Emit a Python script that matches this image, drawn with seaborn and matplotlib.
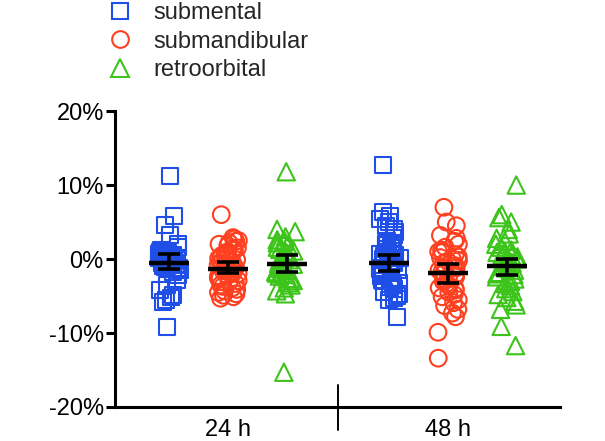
import numpy as np
import pandas as pd
import matplotlib
matplotlib.use("Agg")
import matplotlib.pyplot as plt
import seaborn as sns
from matplotlib.lines import Line2D
from matplotlib.transforms import blended_transform_factory

# ---------------- data (percent change) ----------------
times = ["24 h", "48 h"]
sites = ["submental", "submandibular", "retroorbital"]

submental_24 = [11.2, 5.8, 4.6, 3.3, 2.0, 1.6, 1.2, 1.0, 0.9, 0.8, 0.7, 0.6, 0.5, 0.4,
                0.3, 0.2, 0.1, 0.0, 0.0, -0.1, -0.2, -0.3, -0.4, -0.5, -0.6, -0.7, -0.8,
                -0.9, -1.0, -1.2, -1.5, -1.8, -2.2, -2.9, -3.5, -4.2, -4.8, -5.2, -5.5,
                -5.8, -9.2, 0.6, 0.3, -0.2, -0.4, 0.1, -0.6, -1.1, 0.8, 0.4]
submandibular_24 = [6.0, 2.9, 2.7, 2.5, 2.4, 2.2, 2.0, 1.8, 1.5, 1.2, 1.0, 0.8, 0.5, 0.3,
                    0.1, -0.1, -0.3, -0.5, -0.6, -0.8, -1.0, -1.1, -1.3, -1.5, -1.6, -1.8,
                    -2.0, -2.1, -2.3, -2.5, -2.7, -2.9, -3.1, -3.3, -3.5, -3.7, -3.9, -4.1,
                    -4.3, -4.5, -4.7, -4.9, -5.1, -5.3, -0.4, -1.2, -1.9, 0.6, 1.4, -2.6]
retroorbital_24 = [11.8, 4.0, 3.7, 3.0, 2.6, 2.2, 1.9, 1.6, 1.3, 1.0, 0.8, 0.5, 0.3, 0.1,
                   -0.1, -0.3, -0.5, -0.7, -0.9, -1.1, -1.3, -1.5, -1.7, -1.9, -2.1, -2.3,
                   -2.6, -2.9, -3.2, -3.5, -3.9, -4.3, -4.7, -15.3, 0.4, -0.6, -1.2, 1.1,
                   -2.0, 2.4]
submental_48 = [12.7, 6.3, 5.8, 5.4, 5.0, 4.5, 4.0, 3.6, 3.2, 2.8, 2.5, 2.2, 1.9, 1.6,
                1.3, 1.0, 0.7, 0.4, 0.2, 0.0, -0.2, -0.4, -0.6, -0.8, -1.0, -1.2, -1.4,
                -1.6, -1.8, -2.0, -2.3, -2.6, -2.9, -3.2, -3.5, -3.8, -4.1, -4.4, -4.7,
                -5.0, -5.3, -5.6, -7.9, 0.5, -0.5, -1.5, 1.5, 2.0, -2.5, -3.0]
submandibular_48 = [7.0, 5.0, 4.5, 3.2, 2.8, 2.4, 2.0, 1.6, 1.2, 0.9, 0.6, 0.3, 0.0, -0.3,
                    -0.6, -0.9, -1.2, -1.5, -1.8, -2.1, -2.4, -2.7, -3.0, -3.3, -3.6, -3.9,
                    -4.2, -4.5, -4.8, -5.1, -5.5, -5.9, -6.3, -6.8, -7.3, -7.8, -9.9, -13.4,
                    -1.0, -2.0, -2.5, 0.2, -0.2, -3.5, -4.0, 1.0]
retroorbital_48 = [10.0, 6.0, 5.6, 5.0, 4.0, 3.4, 2.8, 2.4, 2.0, 1.6, 1.2, 0.9, 0.6, 0.3,
                   0.0, -0.3, -0.6, -0.9, -1.2, -1.5, -1.8, -2.1, -2.4, -2.7, -3.0, -3.3,
                   -3.6, -4.0, -4.4, -4.8, -5.2, -5.7, -6.2, -6.8, -9.1, -11.7, -1.0, -2.0,
                   0.5, 1.0, -0.5]

# mean with 95% CI
mean_24 = [-0.5, -1.3, -0.7]
low_24 = [-1.35, -1.85, -1.75]
high_24 = [0.7, -0.4, 0.5]
mean_48 = [-0.5, -1.9, -1.0]
low_48 = [-1.6, -3.2, -2.2]
high_48 = [0.6, -0.7, 0.0]

yticks = [-20, -10, 0, 10, 20]
ytick_labels = ["-20%", "-10%", "0%", "10%", "20%"]

# ---------------- styling ----------------
colors = ["#1F4FE6", "#FF4020", "#3CC41A"]
markers = ["s", "o", "^"]
msizes = [11.5, 12, 12.5]

sns.set_theme(style="ticks")
plt.rcParams["font.family"] = ["Liberation Sans", "DejaVu Sans"]

rows = []
for t, groups in zip(times, [[submental_24, submandibular_24, retroorbital_24],
                             [submental_48, submandibular_48, retroorbital_48]]):
    for s, vals in zip(sites, groups):
        for v in vals:
            rows.append({"time": t, "site": s, "value": v})
df = pd.DataFrame(rows)

fig = plt.figure(figsize=(6.05, 4.41), dpi=100)
ax = fig.add_axes([0.190, 0.0771, 0.7356, 0.671])

np.random.seed(3)
for s, c, m, ms in zip(sites, colors, markers, msizes):
    n_before = len(ax.collections)
    sns.stripplot(data=df[df["site"] == s], x="time", y="value", hue="site",
                  order=times, hue_order=sites, palette=dict(zip(sites, colors)),
                  dodge=True, jitter=0.15, marker=m, size=ms, linewidth=1.5,
                  legend=False, ax=ax, zorder=3)
    for coll in ax.collections[n_before:]:
        coll.set_facecolor("none")
        coll.set_edgecolor(c)
        coll.set_linewidth(1.5)

# mean and CI bars
offsets = [-0.8 / 3, 0.0, 0.8 / 3]
for i, (means, lows, highs) in enumerate([(mean_24, low_24, high_24),
                                          (mean_48, low_48, high_48)]):
    for j in range(3):
        x = i + offsets[j]
        m = means[j]
        ax.errorbar([x], [m], yerr=[[m - lows[j]], [highs[j] - m]], fmt="none",
                    ecolor="black", elinewidth=2.6, capsize=8, capthick=2.6, zorder=10)
        ax.hlines(m, x - 0.091, x + 0.091, color="black", lw=3.2, zorder=10)

ax.set_xlim(-0.514, 1.509)
ax.set_ylim(-20, 20)
ax.set_yticks(yticks)
ax.set_yticklabels(ytick_labels)
ax.set_xlabel("")
ax.set_ylabel("")
for side in ["top", "right"]:
    ax.spines[side].set_visible(False)
for side in ["left", "bottom"]:
    ax.spines[side].set_linewidth(2.2)
    ax.spines[side].set_color("black")
ax.tick_params(axis="y", direction="out", length=6.5, width=2.2, labelsize=17,
               pad=1.5, colors="black")
ax.tick_params(axis="x", length=0, labelsize=17, pad=9, colors="black")

# category separator
trans = blended_transform_factory(ax.transData, ax.transAxes)
ax.plot([0.5, 0.5], [-0.078, 0.074], transform=trans, color="black", lw=1.4,
        clip_on=False, zorder=5)

handles = [Line2D([], [], marker=m, ls="none", markerfacecolor="none",
                  markeredgecolor=c, markersize=ms, markeredgewidth=1.5)
           for m, c, ms in zip(markers, colors, msizes)]
fig.legend(handles, sites, loc="upper left", bbox_to_anchor=(0.1785, 0.995),
           frameon=False, fontsize=17, handlelength=1.0, handletextpad=0.93,
           labelspacing=0.27, borderpad=0, borderaxespad=0)

fig.savefig("out.png", dpi=100)
